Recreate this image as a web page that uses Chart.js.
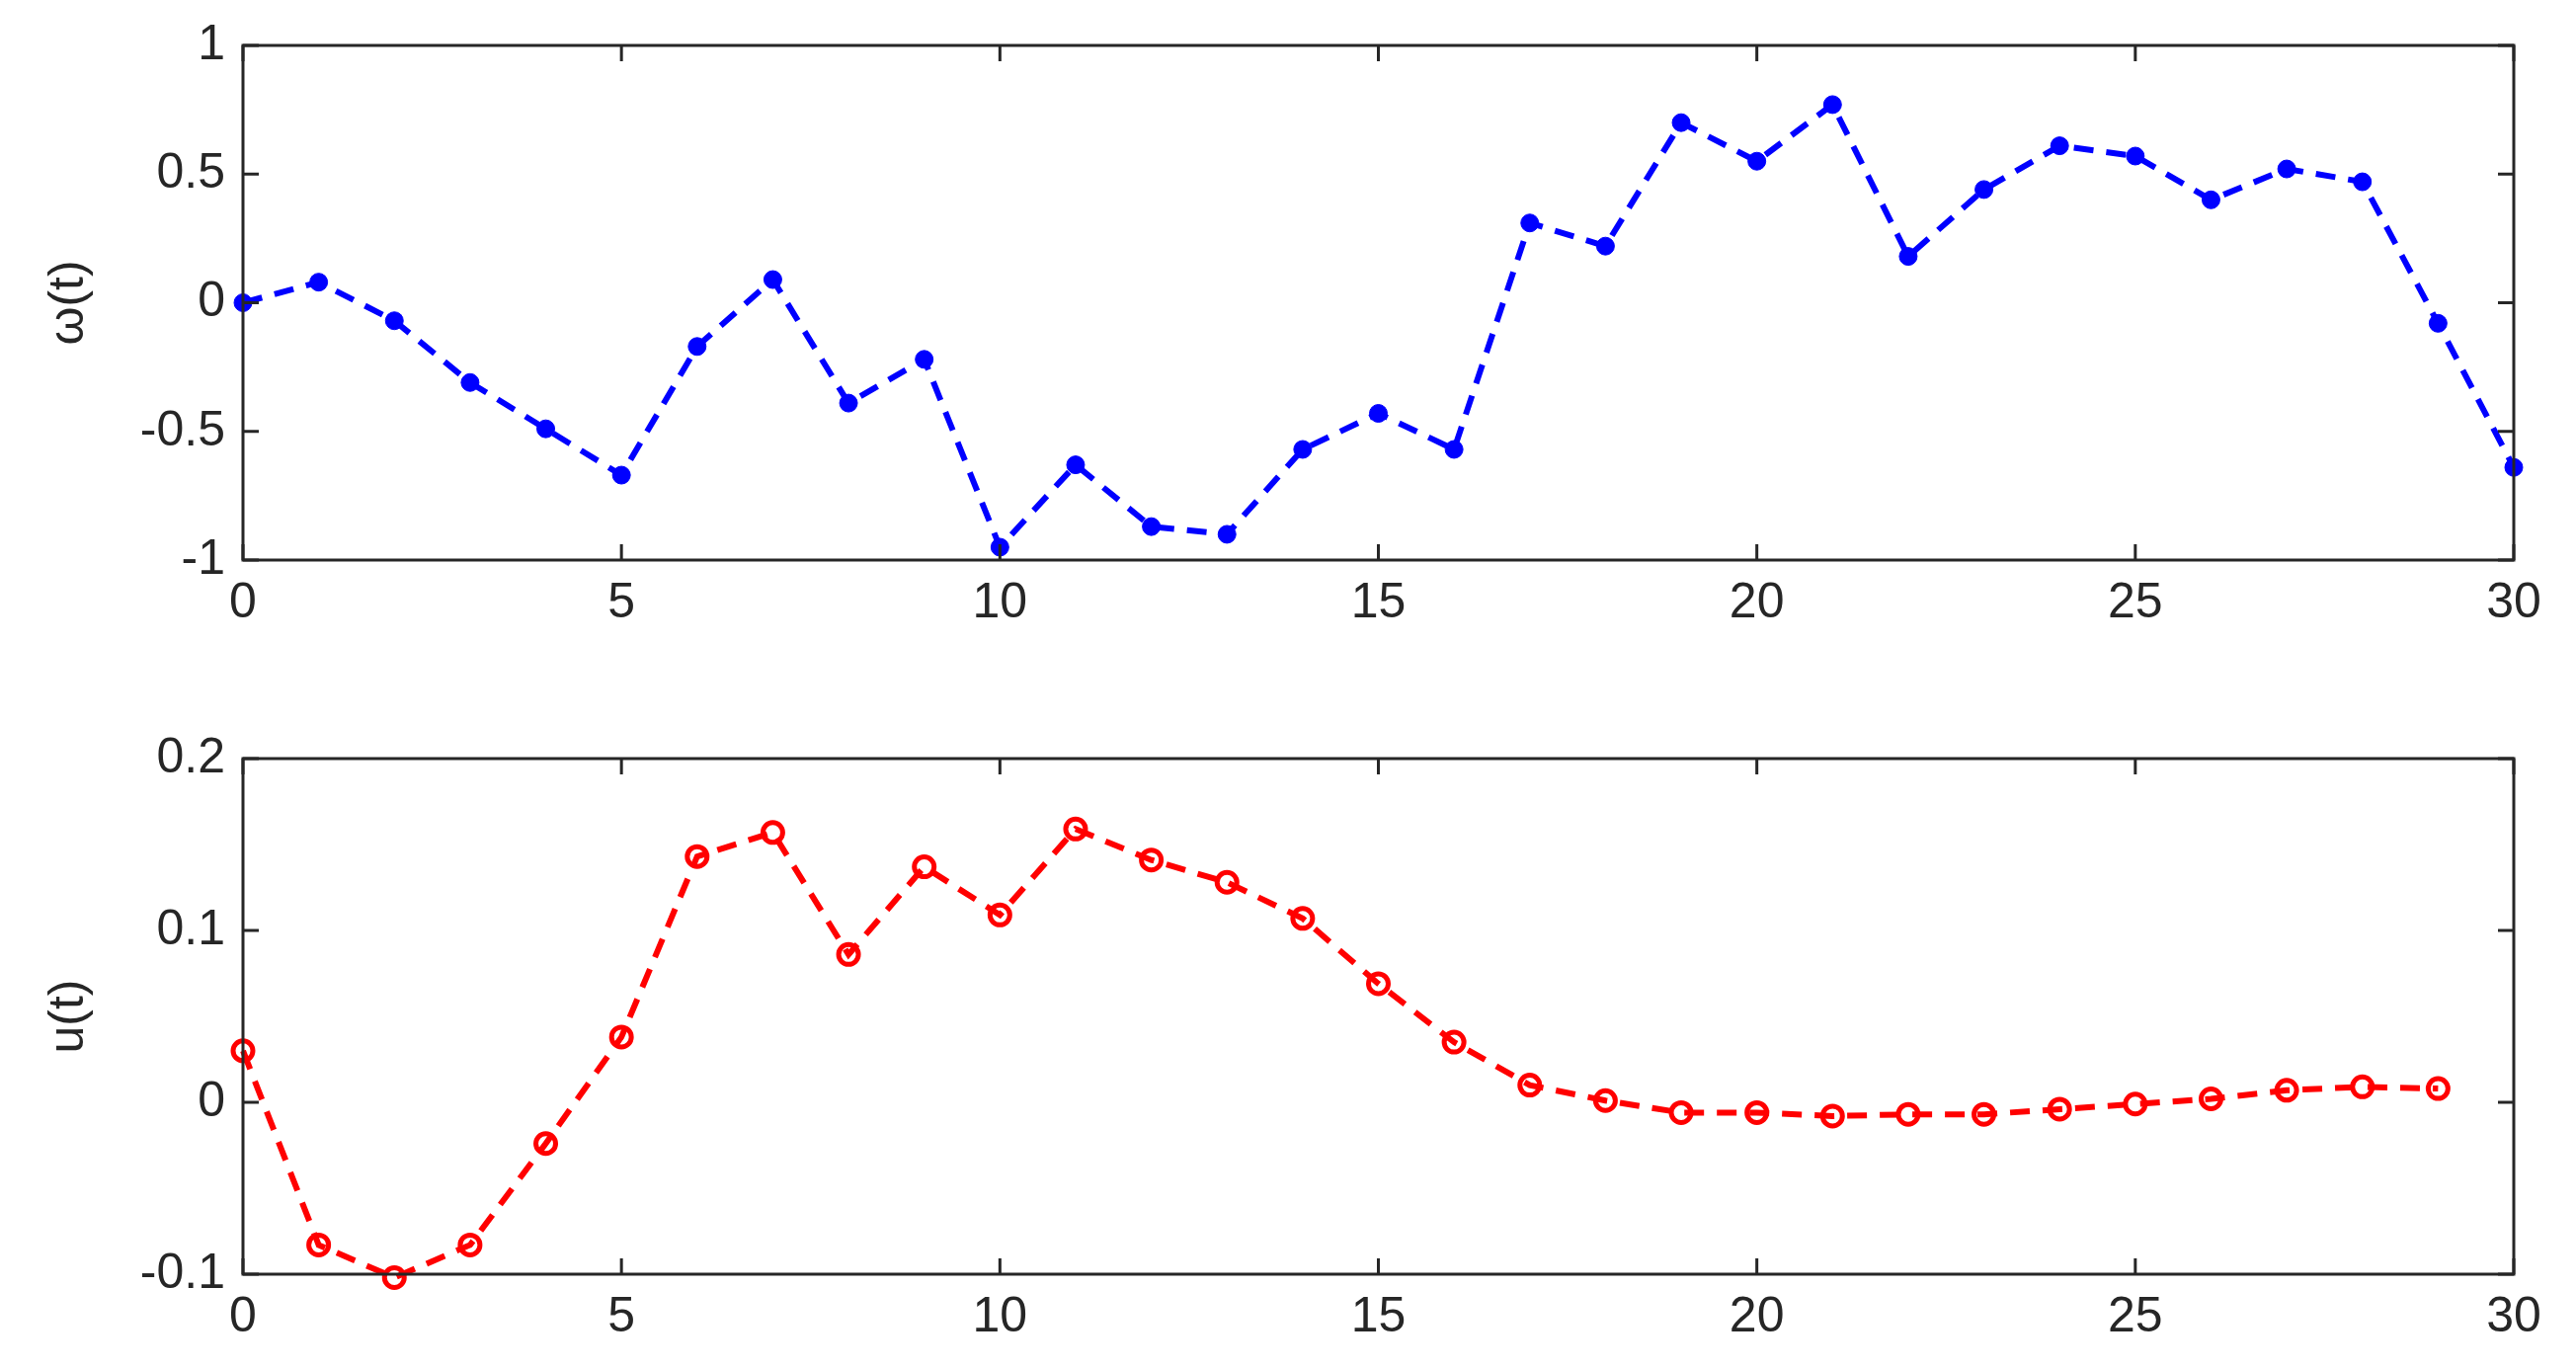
<!DOCTYPE html>
<html><head><meta charset="utf-8">
<script src="https://cdn.jsdelivr.net/npm/chart.js@4/dist/chart.umd.min.js"></script>
<style>html,body{margin:0;padding:0;background:#fff;overflow:hidden}
canvas{position:absolute;left:0}</style></head>
<body>
<div style="position:absolute;left:0;top:0;width:2608px;height:640px"><canvas id="c1"></canvas></div>
<div style="position:absolute;left:0;top:640px;width:2608px;height:746px"><canvas id="c2"></canvas></div>
<script>
const tOmega = [0,1,2,3,4,5,6,7,8,9,10,11,12,13,14,15,16,17,18,19,20,21,22,23,24,25,26,27,28,29,30];
const omega = [0,0.08,-0.07,-0.31,-0.49,-0.67,-0.17,0.09,-0.39,-0.22,-0.95,-0.63,-0.87,-0.9,-0.57,-0.43,-0.57,0.31,0.22,0.7,0.55,0.77,0.18,0.44,0.61,0.57,0.4,0.52,0.47,-0.08,-0.64];
const tU = [0,1,2,3,4,5,6,7,8,9,10,11,12,13,14,15,16,17,18,19,20,21,22,23,24,25,26,27,28,29];
const u = [0.03,-0.083,-0.102,-0.083,-0.024,0.038,0.143,0.157,0.086,0.137,0.109,0.159,0.141,0.128,0.107,0.069,0.035,0.01,0.001,-0.006,-0.006,-0.008,-0.007,-0.007,-0.004,-0.001,0.002,0.007,0.009,0.008];
const xTicks = [0,5,10,15,20,25,30];

const frame = {
  id:'frame',
  afterDraw(ch){
    const {ctx, chartArea:a, scales:{x,y}} = ch;
    ctx.save();
    ctx.strokeStyle='#262626'; ctx.lineWidth=3;
    ctx.strokeRect(a.left,a.top,a.right-a.left,a.bottom-a.top);
    ctx.beginPath();
    const L=16;
    x.ticks.forEach(t=>{const p=x.getPixelForValue(t.value);
      ctx.moveTo(p,a.bottom);ctx.lineTo(p,a.bottom-L);ctx.moveTo(p,a.top);ctx.lineTo(p,a.top+L);});
    y.ticks.forEach(t=>{const p=y.getPixelForValue(t.value);
      ctx.moveTo(a.left,p);ctx.lineTo(a.left+L,p);ctx.moveTo(a.right,p);ctx.lineTo(a.right-L,p);});
    ctx.stroke(); ctx.restore();
  }
};
const font = {family:'Liberation Sans, Arial', size:50};
function make(id, xs, ys, color, filled, ymin, ymax, step, title, padTop, xh){
  return new Chart(document.getElementById(id), {
    type:'line',
    data:{datasets:[{data:xs.map((v,i)=>({x:v,y:ys[i]})), borderColor:color, borderWidth:6,
      borderDash:[20,13], pointRadius:filled?9:10, pointBorderWidth:filled?1:5,
      pointBackgroundColor:filled?color:'rgba(0,0,0,0)', pointBorderColor:color, tension:0}]},
    options:{responsive:true, maintainAspectRatio:false, animation:false,
      clip:false,
      layout:{padding:{top:padTop,right:63,left:40,bottom:0}},
      plugins:{legend:{display:false},tooltip:{enabled:false}},
      scales:{
        x:{type:'linear',min:0,max:30,afterBuildTicks(s){s.ticks=xTicks.map(v=>({value:v}));},
          grid:{display:false}, border:{display:false},
          ticks:{font, color:'#262626', padding:6, maxRotation:0},
          afterFit(s){s.height=xh;}},
        y:{min:ymin,max:ymax,grid:{display:false},border:{display:false},
          ticks:{stepSize:step,font,color:'#262626',padding:10,
            callback:v=>String(Number(v.toFixed(3)))},
          title:{display:true,text:title,font,color:'#262626',padding:0},
          afterFit(s){s.width=206;}}
      }},
    plugins:[frame]
  });
}
make('c1', tOmega, omega, '#0000ff', true, -1, 1, 0.5, 'ω(t)', 46, 73);
make('c2', tU, u, '#ff0000', false, -0.1, 0.2, 0.1, 'u(t)', 128, 96);
</script></body></html>
